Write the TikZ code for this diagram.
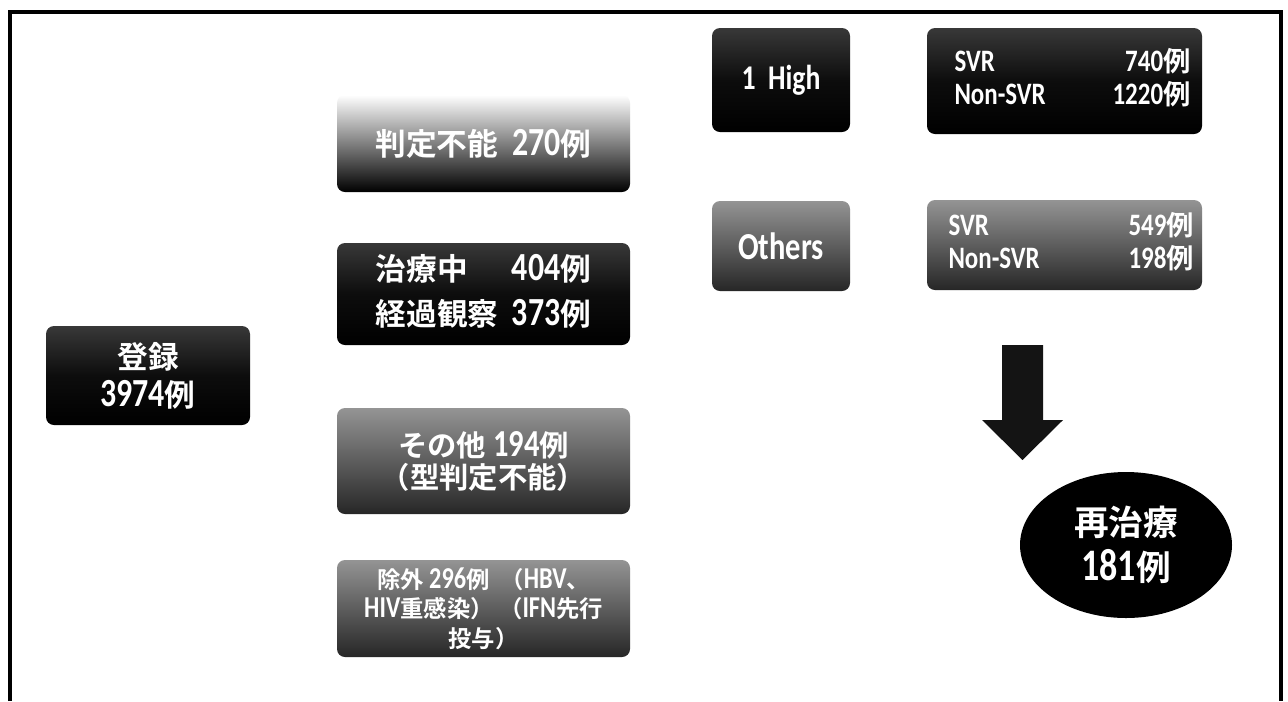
\documentclass[tikz,border=0pt]{standalone}
\usepackage{fontspec}
\usetikzlibrary{shapes.geometric}
\setmainfont{Carlito}[Scale=1.3, FakeStretch=0.8]
\newfontfamily\cjkfont{Noto Sans CJK JP}[BoldFont={Noto Sans CJK JP Bold}]
\newcommand\J[1]{{\cjkfont\bfseries #1}}
\newcommand\JR[1]{{\cjkfont\bfseries\fontsize{20.5}{24}\selectfont #1}}
\begin{document}
\begin{tikzpicture}[x=0.75pt,y=-0.75pt,
  box/.style={rounded corners=6pt, text=white, align=center, inner sep=0pt,
    font=\bfseries\fontsize{23}{34}\selectfont},
  blackbox/.style={box, top color=black!78, bottom color=black, middle color=black!95},
  graybox/.style={box, top color=black!42, bottom color=black!85},
  fadebox/.style={box, top color=white, bottom color=black},
  rfont/.style={font=\bfseries\fontsize{18}{24}\selectfont},
]
\useasboundingbox (0,0) rectangle (1288,701);
\fill[white] (0,0) rectangle (1288,701);
% frame
\draw[line width=3pt] (10,701) -- (10,12) -- (1281,12) -- (1281,701);

% left
\node[blackbox, minimum width=204*0.75pt, minimum height=99*0.75pt,
  font=\bfseries\fontsize{23}{28.5}\selectfont] (reg) at (148,375.5)
  {\J{登録}\\3974\J{例}};

% middle column
\node[fadebox, minimum width=293*0.75pt, minimum height=97*0.75pt] (hantei) at (483.5,143.5)
  {\J{判定不能}\ \ 270\J{例}};
\node[blackbox, minimum width=293*0.75pt, minimum height=102*0.75pt] (chiryo) at (483.5,294)
  {\begin{tabular}{@{}l@{\hspace{10pt}}r@{}}
   \J{治療中} & 404\J{例}\\ \J{経過観察} & 373\J{例}\end{tabular}};
\node[graybox, minimum width=293*0.75pt, minimum height=106*0.75pt,
  font=\bfseries\fontsize{22}{24}\selectfont] (sonota) at (483.5,461)
  {\J{その他}\ 194\J{例}\\\J{（型判定不能）}};
\node[graybox, minimum width=293*0.75pt, minimum height=97*0.75pt,
  font=\bfseries\fontsize{17.5}{22}\selectfont] (jogai) at (483.5,608.5)
  {\J{除外}\ 296\J{例}\ \ \J{（}HBV\J{、}\\HIV\J{重感染）}\ \J{（}IFN\J{先行}\\\J{投与）}};

% right column
\node[blackbox, minimum width=138*0.75pt, minimum height=104*0.75pt,
  font=\bfseries\fontsize{20}{24}\selectfont] (high) at (781,80) {1\ \ High};
\node[blackbox, minimum width=275*0.75pt, minimum height=106*0.75pt, rfont] (svr1) at (1064.5,81)
  {\hspace*{12pt}\begin{tabular*}{177pt}{@{}l@{\extracolsep{\fill}}r@{}}
   SVR & 740\JR{例}\\ Non-SVR & 1220\JR{例}\end{tabular*}};
\node[graybox, minimum width=138*0.75pt, minimum height=90*0.75pt,
  font=\bfseries\fontsize{22}{24}\selectfont] (others) at (781,246) {Others};
\node[graybox, minimum width=275*0.75pt, minimum height=90*0.75pt, rfont] (svr2) at (1064.5,245)
  {\hspace*{10pt}\raisebox{6pt}{\begin{tabular*}{184pt}{@{}l@{\extracolsep{\fill}}r@{}}
   SVR & 549\JR{例}\\ Non-SVR & 198\JR{例}\end{tabular*}}};

% arrow
\fill[black!92] (1002,345) -- (1043,345) -- (1043,420) -- (1063,420)
  -- (1022.5,460) -- (982,420) -- (1002,420) -- cycle;

% ellipse
\node[ellipse, draw=none, fill=black, text=white, inner sep=0pt,
  minimum width=212*0.75pt, minimum height=146*0.75pt, align=center,
  font=\bfseries\fontsize{26}{34}\selectfont] (re) at (1126,545)
  {\J{再治療}\\181\J{例}};
\end{tikzpicture}
\end{document}
